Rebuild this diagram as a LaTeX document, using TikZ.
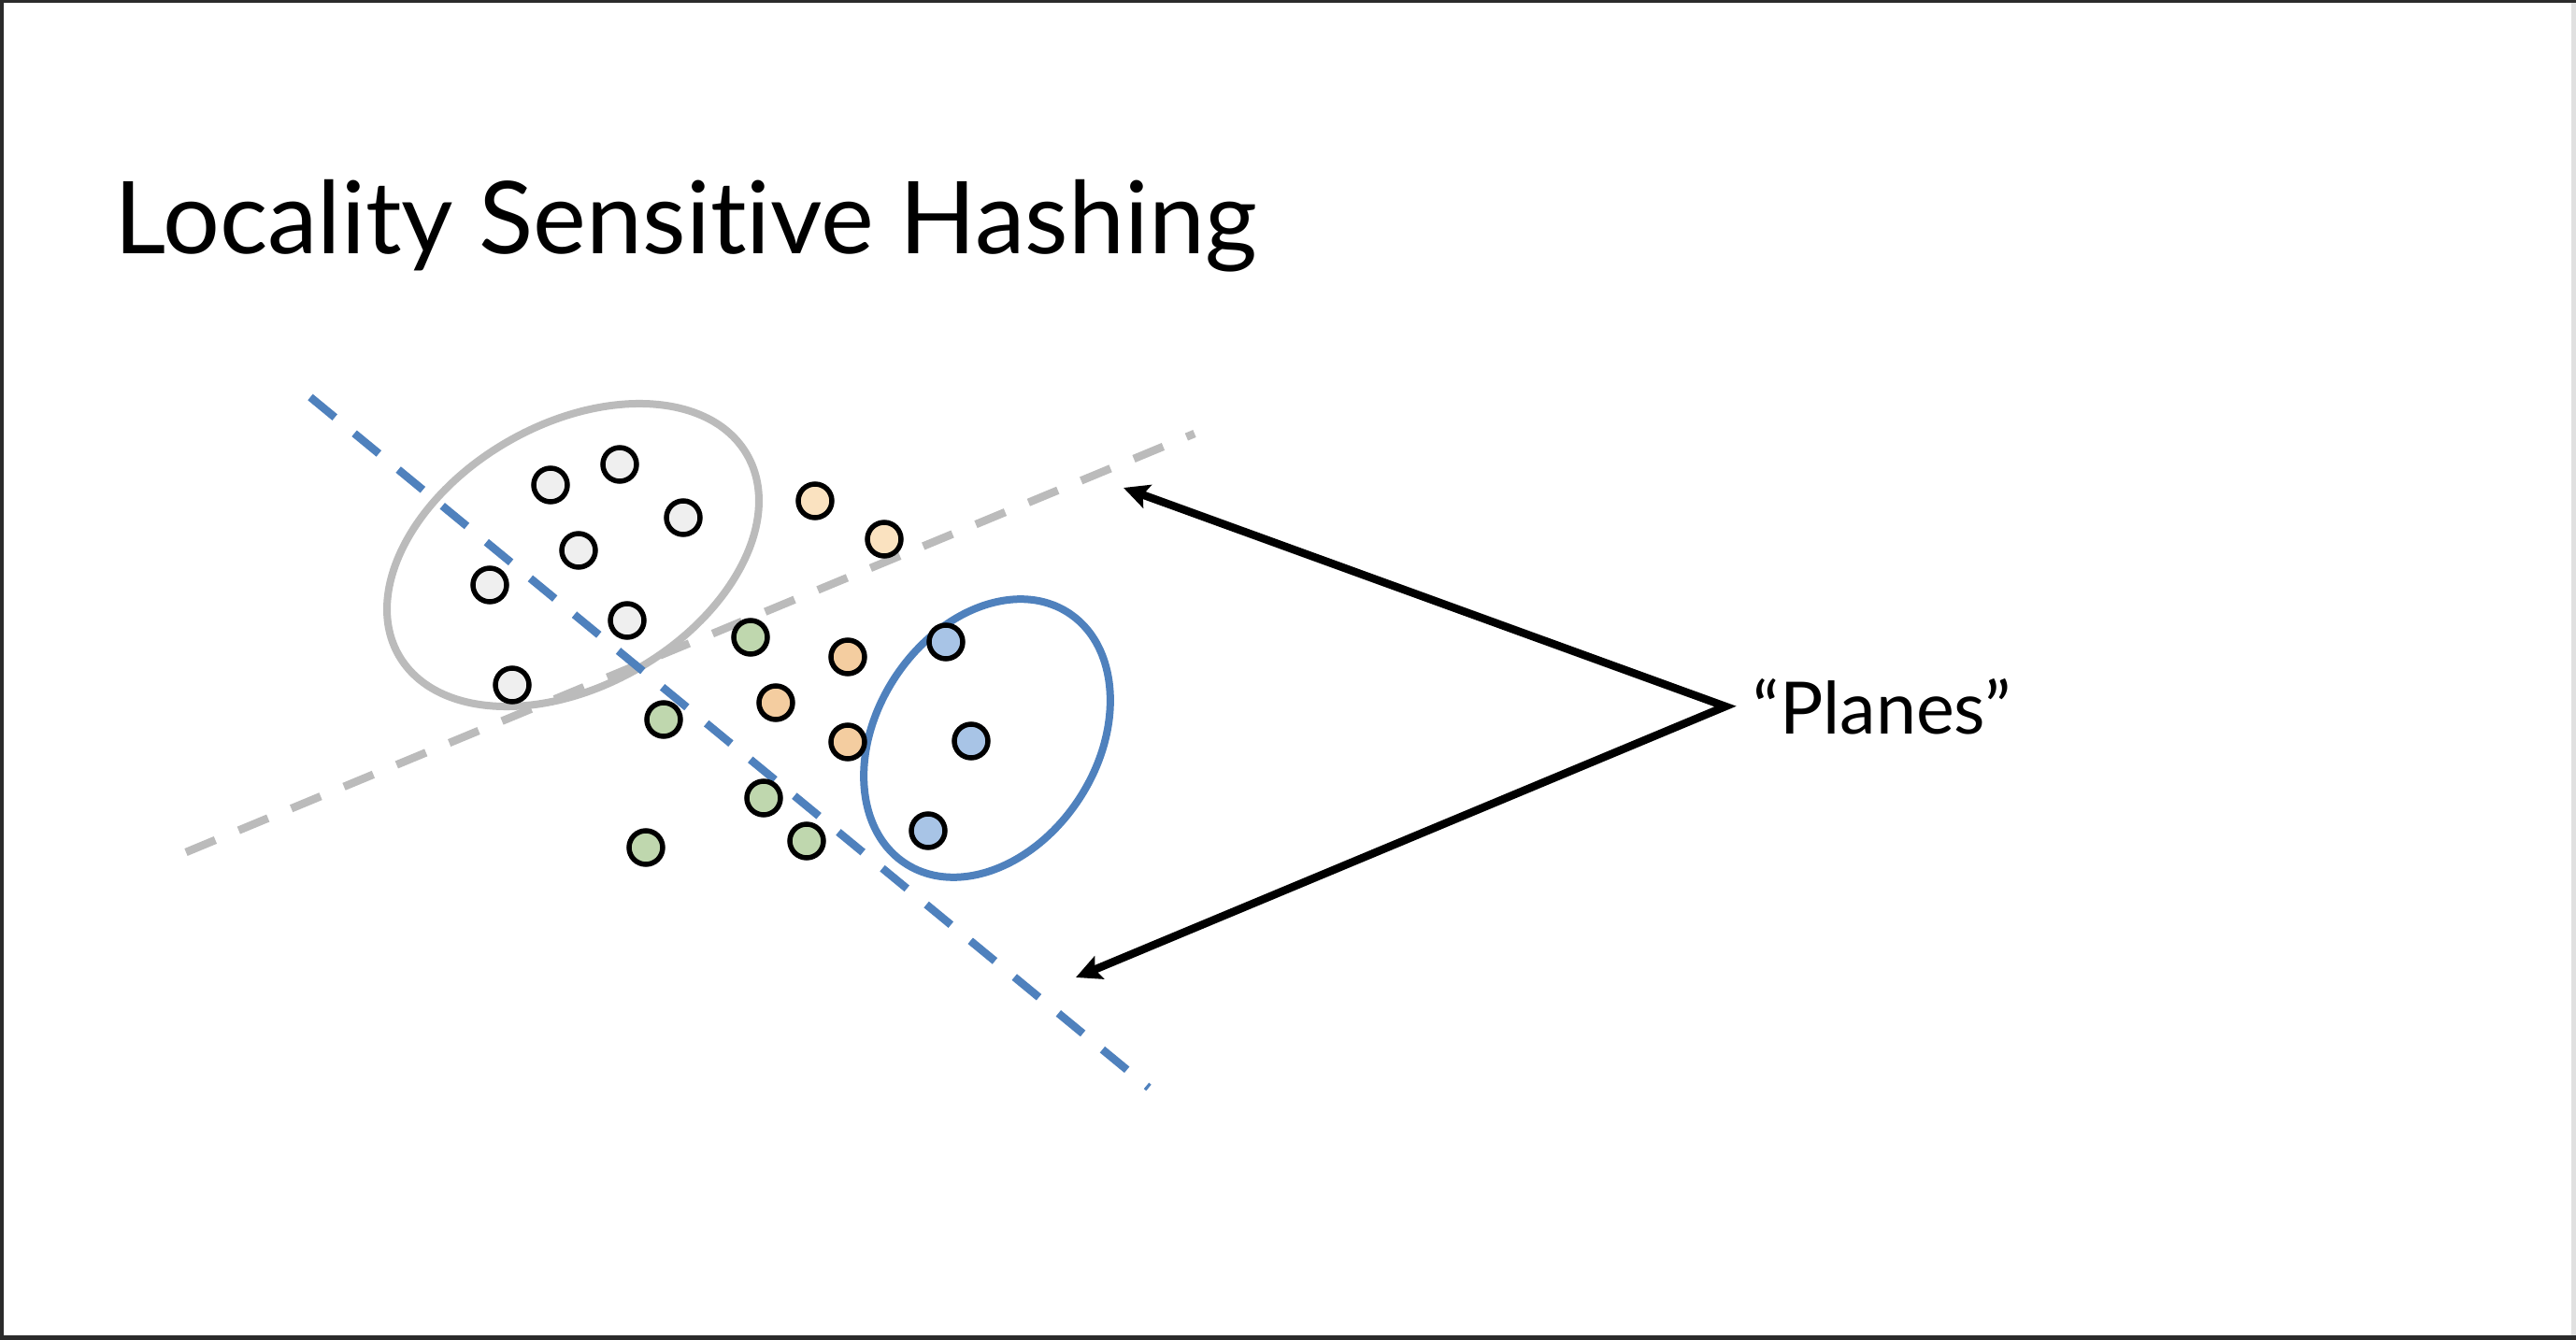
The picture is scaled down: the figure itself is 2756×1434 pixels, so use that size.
\documentclass[tikz,border=0pt]{standalone}
\usepackage{fontspec}
\setmainfont{Lato}[Ligatures={TeX,NoCommon}]
\usepackage{tikz}
\usetikzlibrary{arrows.meta}

\definecolor{lshblue}{RGB}{79,129,189}
\definecolor{lshgray}{RGB}{187,187,187}
\definecolor{ptwhite}{RGB}{239,239,239}
\definecolor{ptpeach}{RGB}{250,226,192}
\definecolor{ptorange}{RGB}{244,205,160}
\definecolor{ptgreen}{RGB}{191,215,174}
\definecolor{ptblue}{RGB}{168,196,230}

\begin{document}
\begin{tikzpicture}[x=0.1mm, y=-0.1mm,
    dot/.style={circle, draw=black, line width=0.55mm, minimum size=3.6mm, inner sep=0pt},
    plane/.style={line width=0.85mm, dash pattern=on 3.4mm off 2.7mm},
    bucket/.style={line width=0.8mm}]
        \tikzset{>={Stealth[length=2.7mm, width=2.6mm, inset=0.5mm]}}

        % Page and frame
        \fill[white] (0,0) rectangle (2756,1434);
        \fill[black!83] (0,0) rectangle (2756,3);
        \fill[black!83] (0,0) rectangle (4,1434);
        \fill[black!83] (0,1429) rectangle (2756,1434);
        \fill[black!12] (2751,3) rectangle (2756,1429);
        \useasboundingbox (0,0) rectangle (2756,1434);

        % Title
        \node[anchor=base west, inner sep=0pt, font=\fontsize{30.6}{36}\selectfont] (title) at (122,272) {Locality Sensitive Hashing};

        % Buckets
        \draw[bucket, lshgray, rotate around={30:(613,594)}] (613,594) ellipse (21.5mm and 14mm);
        \draw[bucket, lshblue, rotate around={57:(1056,790)}] (1056,790) ellipse (16mm and 11.8mm);

        % The two planes
        \coordinate (g1) at (199,912);
        \coordinate (g2) at (1278,464);
        \coordinate (b1) at (332,425);
        \coordinate (b2) at (1229,1164);
        \draw[plane, lshgray] (g1) -- (g2);
        \draw[plane, lshblue] (b1) -- (b2);

        % Points
        \foreach \x/\y [count=\i] in {589/519, 663/497, 731/554, 619/589, 524/626, 671/664, 548/733} {
          \node[dot, fill=ptwhite] (w\i) at (\x,\y) {};
        }
        \foreach \x/\y [count=\i] in {872/536, 946/577} {
          \node[dot, fill=ptpeach] (p\i) at (\x,\y) {};
        }
        \foreach \x/\y [count=\i] in {803/682, 710/770, 817/854, 863/900, 691/907} {
          \node[dot, fill=ptgreen] (g\i) at (\x,\y) {};
        }
        \foreach \x/\y [count=\i] in {907/703, 830/752, 907/794} {
          \node[dot, fill=ptorange] (o\i) at (\x,\y) {};
        }
        \foreach \x/\y [count=\i] in {1012/687, 1039/793, 993/889} {
          \node[dot, fill=ptblue] (u\i) at (\x,\y) {};
        }

        % Label and arrows
        \node[anchor=west, inner xsep=2.9mm, inner ysep=0pt, font=\fontsize{22}{27}\selectfont] (planes) at (1846,756) {``Planes''};
        \coordinate (upTip) at (1202,522);
        \coordinate (lowTip) at (1151,1046);
        \draw[<->, line width=0.85mm] (upTip) -- (planes.west) -- (lowTip);
    \end{tikzpicture}
\end{document}
